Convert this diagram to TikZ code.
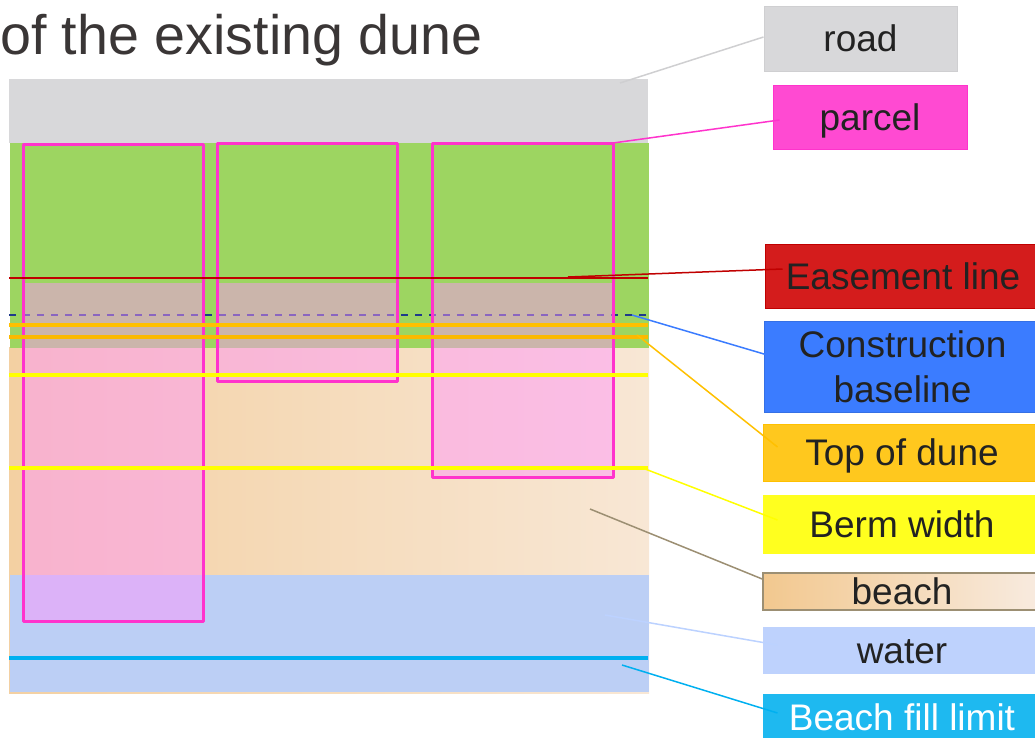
\documentclass[tikz,border=0pt]{standalone}
\usepackage{fontspec}
\setmainfont{Liberation Sans}
\definecolor{roadc}{HTML}{D8D8DA}
\definecolor{roadb}{HTML}{CFCFD1}
\definecolor{greenc}{HTML}{9DD561}
\definecolor{beachA}{HTML}{F3D0A2}
\definecolor{beachB}{HTML}{F8E7D5}
\definecolor{waterc}{HTML}{BCCFF5}
\definecolor{pinkfill}{RGB}{255,148,252}
\definecolor{parcelc}{HTML}{FF33CC}
\definecolor{parcelbox}{HTML}{FF4AD2}
\definecolor{easec}{HTML}{C00000}
\definecolor{easebox}{HTML}{D41C1C}
\definecolor{navyc}{HTML}{1F3A8A}
\definecolor{consc}{HTML}{3B7CFF}
\definecolor{orangec}{HTML}{FFC000}
\definecolor{orange2}{HTML}{FBB900}
\definecolor{topbox}{HTML}{FFC81E}
\definecolor{yellowc}{HTML}{FFFF00}
\definecolor{bermbox}{HTML}{FFFF1F}
\definecolor{beachLA}{HTML}{F2C88F}
\definecolor{beachLB}{HTML}{F8EBE0}
\definecolor{beachline}{HTML}{9C8F73}
\definecolor{waterbox}{HTML}{BED2FD}
\definecolor{waterline}{HTML}{BCD2FF}
\definecolor{cyanc}{HTML}{00B0F0}
\definecolor{bflbox}{HTML}{1EB9F0}
\definecolor{txt}{HTML}{222222}
\definecolor{titlec}{HTML}{3A3636}
\begin{document}
\begin{tikzpicture}[x=1pt,y=-1pt,
  lbox/.style={draw, line width=1pt, inner sep=0pt, text=txt,
    font=\fontsize{37}{45}\selectfont},
  oneline/.style={text height=26.6pt, text depth=0pt},
  parcelborder/.style={draw=parcelc, line width=3pt, line join=round},
  parcelfill/.style={fill=pinkfill, fill opacity=0.48},
  conn/.style={line width=1.5pt}
]
\useasboundingbox (0,0) rectangle (1035,737);

% title
\node[anchor=base west, inner sep=0pt, text=titlec,
  font=\fontsize{55.6}{60}\selectfont] (title) at (0,54) {of the existing dune};

% map backgrounds
\shade[left color=beachA, right color=beachB] (9,347) rectangle (649,693);
\fill[waterc] (10,575) rectangle (649,692);
\fill[greenc] (10,143) rectangle (649,348);
\fill[roadc] (9,79) rectangle (648,143);

% construction baseline (under parcel fill)
\draw[navyc, line width=2pt, dash pattern=on 7pt off 7pt] (9,315) -- (648,315);

% parcel fills
\fill[parcelfill] (23,283) rectangle (203,621);
\fill[parcelfill] (217,283) rectangle (397,381);
\fill[parcelfill] (432,283) rectangle (613,477);

% parcel borders
\draw[parcelborder] (23,144) rectangle (203,621);
\draw[parcelborder] (217,143) rectangle (397,381);
\draw[parcelborder] (432,143) rectangle (613,477);

% lines
\draw[easec, line width=2pt] (9,278) -- (648,278);
\draw[orangec, line width=4pt] (9,325) -- (648,325);
\draw[orange2, line width=4pt] (9,337) -- (648,337);
\draw[yellowc, line width=4pt] (9,375) -- (648,375);
\draw[yellowc, line width=4pt] (9,468) -- (648,468);
\draw[cyanc, line width=3.5pt] (9,658) -- (648,658);

% legend boxes
\node[lbox, oneline, fill=roadc, draw=roadb, minimum width=193pt, minimum height=65pt] (road) at (860.5,38.5) {road};
\node[lbox, oneline, fill=parcelbox, draw=parcelc, minimum width=194pt, minimum height=64pt] (parcel) at (870,117) {parcel};
\node[lbox, oneline, fill=easebox, draw=easec, minimum width=276pt, minimum height=64pt] (ease) at (903,276) {Easement line};
\node[lbox, align=center, fill=consc, draw=consc!90!black, minimum width=277pt, minimum height=91pt] (cons) at (902.5,366.5) {Construction\\baseline};
\node[lbox, oneline, fill=topbox, draw=orangec, minimum width=278pt, minimum height=57pt] (top) at (902,452.5) {Top of dune};
\node[lbox, oneline, fill=bermbox, draw=bermbox, minimum width=278pt, minimum height=58pt] (berm) at (902,524) {Berm width};
\node[lbox, oneline, left color=beachLA, right color=beachLB, draw=beachline, line width=1.5pt, minimum width=278pt, minimum height=37pt] (beach) at (902,591.5) {beach};
\node[lbox, oneline, fill=waterbox, draw=waterbox, minimum width=278pt, minimum height=46pt] (water) at (902,650) {water};
\node[lbox, oneline, fill=bflbox, draw=bflbox, text=white, minimum width=278pt, minimum height=46pt] (bfl) at (902,717) {Beach fill limit};

% connector start points
\coordinate (sroad) at (620,83);
\coordinate (sparcel) at (613,143);
\coordinate (sease) at (568,277);
\coordinate (scons) at (632,315);
\coordinate (stop) at (637,335);
\coordinate (sberm) at (640,467);
\coordinate (sbeach) at (590,509);
\coordinate (swater) at (605,615);
\coordinate (sbfl) at (622,665);

% connectors (yshift is in page units: positive = up)
\draw[conn, draw=roadb] (sroad) -- ([yshift=1.5pt]road.west);
\draw[conn, draw=parcelc] (sparcel) -- ([xshift=7pt,yshift=-3pt]parcel.west);
\draw[conn, draw=easec] (sease) -- ([xshift=18pt,yshift=7pt]ease.west);
\draw[conn, draw=consc] (scons) -- ([xshift=14pt,yshift=8.5pt]cons.west);
\draw[conn, draw=orangec] (stop) -- ([xshift=15pt,yshift=5.5pt]top.west);
\draw[conn, draw=yellowc] (sberm) -- ([xshift=15pt,yshift=4pt]berm.west);
\draw[conn, draw=beachline] (sbeach) -- ([yshift=12.5pt]beach.west);
\draw[conn, draw=waterline] (swater) -- ([xshift=15pt,yshift=5pt]water.west);
\draw[conn, draw=cyanc] (sbfl) -- ([xshift=15pt,yshift=4pt]bfl.west);
\end{tikzpicture}
\end{document}
